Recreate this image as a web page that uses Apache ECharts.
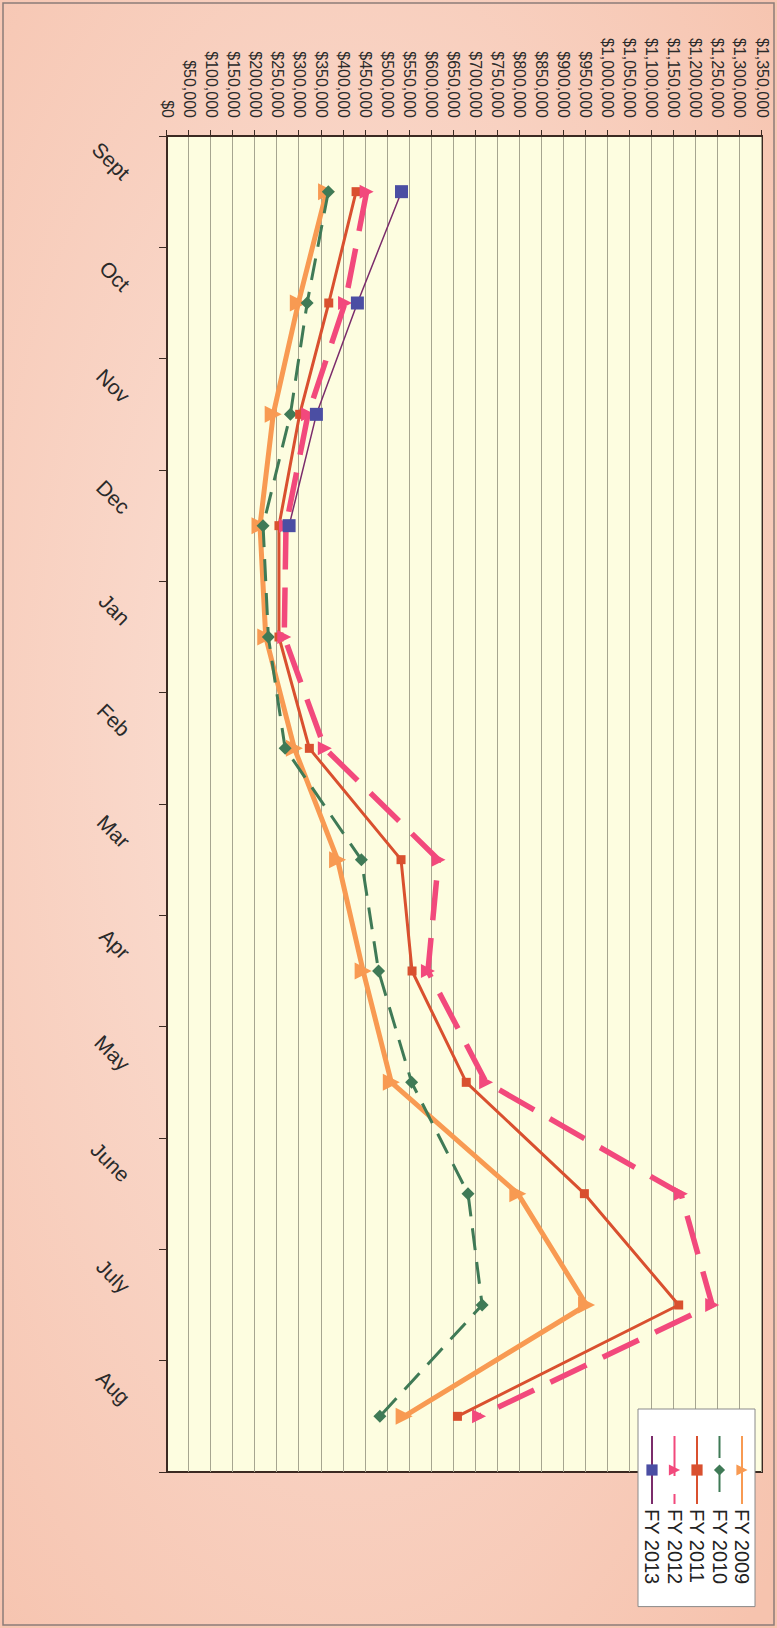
<!DOCTYPE html>
<html>
<head>
<meta charset="utf-8">
<script src="https://cdn.jsdelivr.net/npm/echarts@6/dist/echarts.min.js"></script>
<style>
html,body{margin:0;padding:0;width:777px;height:1628px;overflow:hidden;background:#f8d2c4;}
#chart{position:absolute;left:0;top:0;width:1628px;height:777px;transform-origin:0 0;transform:translate(777px,0) rotate(90deg);}
</style>
</head>
<body>
<div id="chart"></div>
<script>
// ---- data ----
const months = ['Sept','Oct','Nov','Dec','Jan','Feb','Mar','Apr','May','June','July','Aug'];
const fy2009 = [362000, 298000, 241000, 211000, 224000, 289000, 387000, 445000, 509000, 796000, 952000, 538000];
const fy2010 = [366000, 318000, 280000, 218000, 230000, 268000, 441000, 480000, 555000, 683000, 715000, 483000];
const fy2011 = [429000, 367000, 301000, 254000, 254000, 323000, 531000, 556000, 679000, 947000, 1161000, 659000];
const fy2012 = [453000, 404000, 320000, 270000, 266000, 358000, 616000, 592000, 724000, 1166000, 1237000, 708000];
const fy2013 = [532000, 432000, 339000, 277000, null, null, null, null, null, null, null, null];
const seriesNames = ['FY 2009','FY 2010','FY 2011','FY 2012','FY 2013'];
const valueMin = 0, valueMax = 1350000, valueStep = 50000;

const font = 'Liberation Sans, Arial, sans-serif';
const chart = echarts.init(document.getElementById('chart'), null, {renderer: 'svg', width: 1628, height: 777});

function money(v){
  return '$' + Math.round(v).toString().replace(/\B(?=(\d{3})+(?!\d))/g, ',');
}

chart.setOption({
  animation: false,
  backgroundColor: {
    type: 'radial', x: 0.45, y: 0.55, r: 0.75,
    colorStops: [{offset: 0, color: '#fbe3d9'}, {offset: 1, color: '#f6c3ae'}]
  },
  graphic: [{
    type: 'rect', silent: true, z: -1,
    shape: {x: 3, y: 3, width: 1622, height: 771},
    style: {fill: 'none', stroke: '#8c7c78', lineWidth: 1.5}
  }],
  grid: {
    left: 136, right: 156, top: 15, bottom: 167,
    show: true, backgroundColor: '#fdfde0', borderColor: '#3b2a22', borderWidth: 2,
    containLabel: false
  },
  legend: {
    orient: 'vertical',
    left: 1409, top: 22,
    data: seriesNames,
    backgroundColor: '#ffffff',
    borderColor: '#8a8a8a', borderWidth: 1,
    padding: [3, 22, 4, 26],
    itemWidth: 68, itemHeight: 14, itemGap: 2.5,
    selectedMode: false,
    textStyle: {fontFamily: font, fontSize: 20, color: '#222', lineHeight: 20}
  },
  xAxis: {
    type: 'category',
    data: months,
    boundaryGap: true,
    axisLine: {show: true, lineStyle: {color: '#3b2a22', width: 2}},
    axisTick: {show: true, length: 8, lineStyle: {color: '#3b2a22'}},
    axisLabel: {
      rotate: 45, margin: 25, interval: 0,
      padding: [0, 22, 0, 0],
      fontFamily: font, fontSize: 21, color: '#2a2a2a'
    },
    splitLine: {show: false}
  },
  yAxis: {
    type: 'value',
    min: valueMin, max: valueMax, interval: valueStep,
    axisLine: {show: true, lineStyle: {color: '#3b2a22', width: 2}},
    axisTick: {show: true, length: 6, lineStyle: {color: '#3b2a22'}},
    axisLabel: {
      margin: 18, fontFamily: font, fontSize: 16, color: '#2a2a2a',
      formatter: money
    },
    splitLine: {show: true, lineStyle: {color: '#a6a590', width: 1}}
  },
  series: [
    {
      name: seriesNames[0], type: 'line', data: fy2009,
      symbol: 'triangle', symbolSize: 17,
      lineStyle: {color: '#f89a52', width: 5},
      itemStyle: {color: '#f89a52'}
    },
    {
      name: seriesNames[1], type: 'line', data: fy2010,
      symbol: 'diamond', symbolSize: 13,
      lineStyle: {color: '#3f7a56', width: 3, type: [22, 12]},
      itemStyle: {color: '#3f7a56'}
    },
    {
      name: seriesNames[2], type: 'line', data: fy2011,
      symbol: 'rect', symbolSize: 9,
      lineStyle: {color: '#d9502f', width: 3},
      itemStyle: {color: '#d9502f'}
    },
    {
      name: seriesNames[3], type: 'line', data: fy2012,
      symbol: 'triangle', symbolSize: 14,
      lineStyle: {color: '#f2497c', width: 5.5, type: [40, 18]},
      itemStyle: {color: '#f2497c'}
    },
    {
      name: seriesNames[4], type: 'line', data: fy2013,
      symbol: 'rect', symbolSize: 13,
      connectNulls: false,
      lineStyle: {color: '#7b2c6b', width: 1.5},
      itemStyle: {color: '#4b4ea3'}
    }
  ]
});
</script>
</body>
</html>
